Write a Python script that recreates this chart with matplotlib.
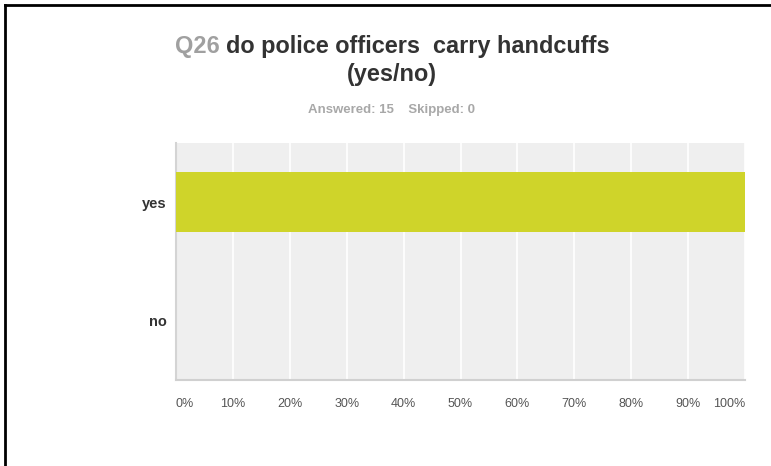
import matplotlib.pyplot as plt
from matplotlib.lines import Line2D

plt.rcParams['font.family'] = ['Liberation Sans', 'DejaVu Sans']

answers = ['yes', 'no']
percent = [100, 0]
ticks = [0, 10, 20, 30, 40, 50, 60, 70, 80, 90, 100]
tick_labels = [f'{t}%' for t in ticks]
qnum = 'Q26'
question = 'do police officers  carry handcuffs'
question2 = '(yes/no)'
answered = 15
skipped = 0

W, H = 771, 466
fig = plt.figure(figsize=(W / 100, H / 100), dpi=100)
ax = fig.add_axes([176 / W, 1 - 380 / H, (745 - 176) / W, (380 - 143) / H])

ax.set_facecolor('#efefef')
ypos = list(range(len(answers)))
ax.barh(ypos, percent, height=0.51, color='#cfd42a', zorder=3)
ax.set_ylim(len(answers) - 0.5, -0.5)
ax.set_xlim(0, 100)
ax.set_yticks(ypos)
ax.set_yticklabels(answers, fontsize=10.5, fontweight='bold', color='#333333')
ax.set_xticks(ticks)
ax.set_xticklabels(tick_labels, fontsize=9, color='#555555')
for lab in ax.get_xticklabels():
    if lab.get_text() == '0%':
        lab.set_ha('left')
    elif lab.get_text() == '100%':
        lab.set_ha('right')
ax.tick_params(axis='x', length=0, pad=13)
ax.tick_params(axis='y', length=0, pad=6.5)
ax.grid(axis='x', color='white', linewidth=1.2, zorder=1)
for side in ['top', 'right']:
    ax.spines[side].set_visible(False)
ax.spines['left'].set_color('#d4d4d4')
ax.spines['left'].set_linewidth(1.5)
ax.spines['bottom'].set_color('#d0d0d0')
ax.spines['bottom'].set_linewidth(1.5)

# title: grey question number followed by dark question text, centred as one line
cx = 392 / W
y1 = 1 - 47 / H
t_num = fig.text(0, y1, qnum + ' ', fontsize=16.9, fontweight='bold', color='#a0a0a0',
                 va='center', ha='left')
t_q = fig.text(0, y1, question, fontsize=16.9, fontweight='bold', color='#333333',
               va='center', ha='left')
fig.canvas.draw()
r = fig.canvas.get_renderer()
w_num = t_num.get_window_extent(r).width / W
w_q = t_q.get_window_extent(r).width / W
x0 = cx - (w_num + w_q) / 2
t_num.set_x(x0)
t_q.set_x(x0 + w_num)
fig.text(cx, 1 - 75 / H, question2, fontsize=16.9, fontweight='bold', color='#333333',
         ha='center', va='center')
fig.text(cx, 1 - 110 / H, f'Answered: {answered}    Skipped: {skipped}', fontsize=9.5,
         fontweight='bold', color='#a8a8a8', ha='center', va='center')

# black frame along top and left edges
fig.add_artist(Line2D([5 / W, 1], [1 - 5 / H, 1 - 5 / H], color='black', linewidth=2,
                      transform=fig.transFigure))
fig.add_artist(Line2D([5 / W, 5 / W], [0, 1 - 5 / H], color='black', linewidth=2,
                      transform=fig.transFigure))

fig.savefig('out.png', dpi=100)
